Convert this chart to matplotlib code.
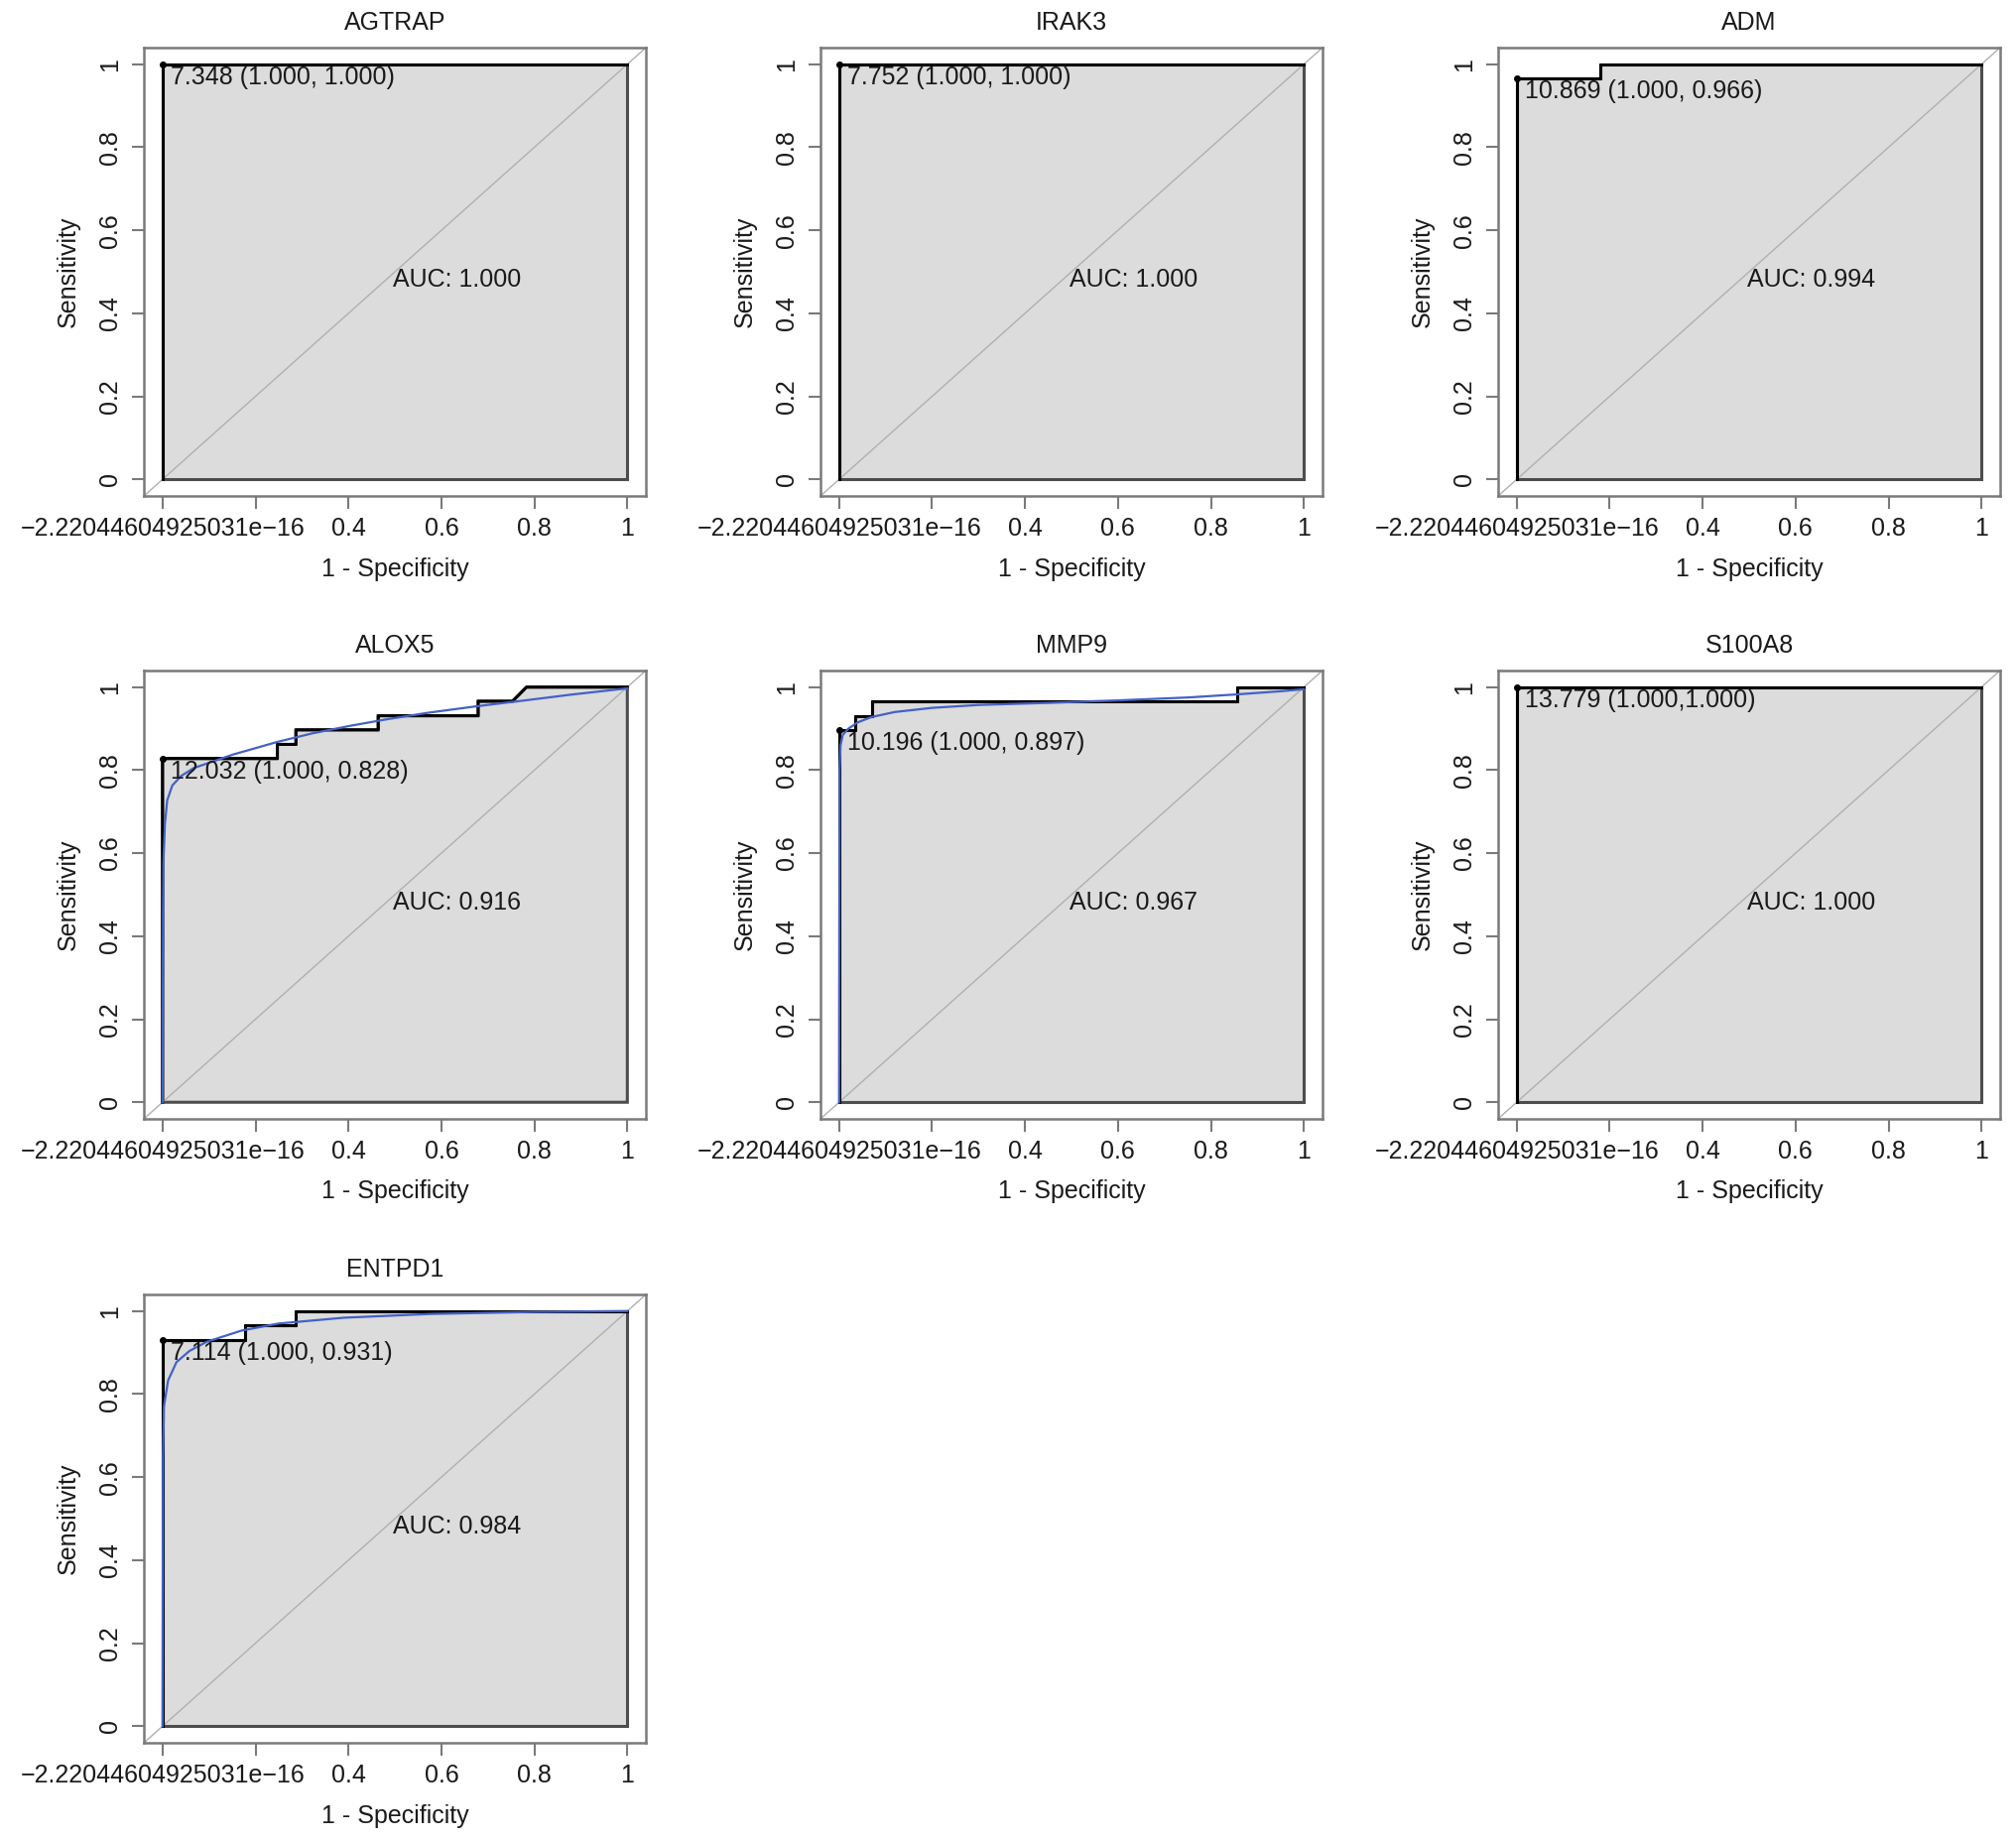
import matplotlib
matplotlib.use("Agg")
import matplotlib.pyplot as plt

plt.rcParams['font.family'] = ['Liberation Sans', 'DejaVu Sans']

# panel data
genes = ["AGTRAP", "IRAK3", "ADM", "ALOX5", "MMP9", "S100A8", "ENTPD1"]
auc_values = [1.000, 1.000, 0.994, 0.916, 0.967, 1.000, 0.984]
thr_labels = ["7.348 (1.000, 1.000)", "7.752 (1.000, 1.000)",
              "10.869 (1.000, 0.966)", "12.032 (1.000, 0.828)",
              "10.196 (1.000, 0.897)", "13.779 (1.000,1.000)",
              "7.114 (1.000, 0.931)"]
thr_x = [0.0, 0.0, 0.0, 0.0, 0.0, 0.0, 0.0]
thr_y = [1.000, 1.000, 0.966, 0.828, 0.897, 1.000, 0.931]

# empirical ROC steps (1 - specificity, sensitivity)
roc_agtrap_x = [0, 0, 1]
roc_agtrap_y = [0, 1, 1]
roc_irak3_x = [0, 0, 1]
roc_irak3_y = [0, 1, 1]
roc_adm_x = [0, 0, 0.18, 0.18, 1]
roc_adm_y = [0, 0.966, 0.966, 1, 1]
roc_alox5_x = [0, 0, 0.247, 0.247, 0.287, 0.287, 0.464, 0.464, 0.679, 0.679, 0.753, 0.783, 1]
roc_alox5_y = [0, 0.828, 0.828, 0.862, 0.862, 0.897, 0.897, 0.931, 0.931, 0.966, 0.966, 1, 1]
roc_mmp9_x = [0, 0, 0.035, 0.035, 0.07, 0.07, 0.857, 0.857, 1]
roc_mmp9_y = [0, 0.897, 0.897, 0.931, 0.931, 0.966, 0.966, 1, 1]
roc_s100a8_x = [0, 0, 1]
roc_s100a8_y = [0, 1, 1]
roc_entpd1_x = [0, 0, 0.178, 0.178, 0.287, 0.287, 1]
roc_entpd1_y = [0, 0.931, 0.931, 0.966, 0.966, 1, 1]

# smoothed ROC curves (blue)
sm_alox5_x = [0, 0.001, 0.002, 0.005, 0.01, 0.021, 0.04, 0.067, 0.114, 0.15, 0.247,
              0.32, 0.40, 0.48, 0.57, 0.67, 0.78, 0.88, 1.0]
sm_alox5_y = [0, 0.45, 0.58, 0.67, 0.727, 0.763, 0.786, 0.805, 0.823, 0.837, 0.868,
              0.888, 0.906, 0.922, 0.938, 0.953, 0.968, 0.982, 0.997]
sm_mmp9_x = [0, 0.001, 0.003, 0.008, 0.02, 0.04, 0.07, 0.12, 0.2, 0.3, 0.45,
             0.6, 0.75, 0.85, 0.95, 1.0]
sm_mmp9_y = [0, 0.80, 0.86, 0.885, 0.90, 0.915, 0.928, 0.94, 0.95, 0.957, 0.962,
             0.968, 0.975, 0.982, 0.99, 0.995]
sm_entpd1_x = [0, 0.001, 0.003, 0.012, 0.03, 0.058, 0.095, 0.17, 0.25, 0.39, 0.575, 0.8, 1.0]
sm_entpd1_y = [0, 0.65, 0.77, 0.833, 0.877, 0.904, 0.926, 0.953, 0.97, 0.984, 0.993, 0.998, 1.0]

roc_x = [roc_agtrap_x, roc_irak3_x, roc_adm_x, roc_alox5_x, roc_mmp9_x, roc_s100a8_x, roc_entpd1_x]
roc_y = [roc_agtrap_y, roc_irak3_y, roc_adm_y, roc_alox5_y, roc_mmp9_y, roc_s100a8_y, roc_entpd1_y]
smooth = {"ALOX5": (sm_alox5_x, sm_alox5_y),
          "MMP9": (sm_mmp9_x, sm_mmp9_y),
          "ENTPD1": (sm_entpd1_x, sm_entpd1_y)}

x_ticks = [0, 0.2, 0.4, 0.6, 0.8, 1]
x_ticklabels = ["\u22122.22044604925031e\u221216", "", "0.4", "0.6", "0.8", "1"]
y_ticks = [0, 0.2, 0.4, 0.6, 0.8, 1]
y_ticklabels = ["0", "0.2", "0.4", "0.6", "0.8", "1"]

fig = plt.figure(figsize=(20.32, 18.54), dpi=100)

col_left = [0.0714, 0.4070, 0.7431]
row_bottom = [0.7303, 0.3916, 0.0523]
w, h = 0.2490, 0.2438
fs = 18
box_col = '#7a7a7a'
txt_col = '#1a1a1a'

for i, gene in enumerate(genes):
    r, c = divmod(i, 3)
    ax = fig.add_axes([col_left[c], row_bottom[r], w, h])
    ax.set_xlim(-0.04, 1.04)
    ax.set_ylim(-0.04, 1.04)

    # area under the empirical curve, then chance line
    ax.fill(list(roc_x[i]) + [1, 0], list(roc_y[i]) + [0, 0], facecolor='#dcdcdc',
            edgecolor='#4d4d4d', lw=2.2, zorder=1)
    ax.plot([-0.04, 1.04], [-0.04, 1.04], color='#b0b0b0', lw=1.0, zorder=2)

    ax.plot(roc_x[i], roc_y[i], color='black', lw=2.2, zorder=3)
    if gene in smooth:
        sx, sy = smooth[gene]
        ax.plot(sx, sy, color='#4461c6', lw=1.6, zorder=4)

    ax.plot(thr_x[i], thr_y[i], 'o', color='black', ms=4, zorder=5)
    ax.text(thr_x[i] + 0.018, thr_y[i] - 0.003, thr_labels[i], ha='left', va='top',
            fontsize=fs, color=txt_col, zorder=6)
    ax.text(0.495, 0.48, "AUC: %.3f" % auc_values[i], ha='left', va='center',
            fontsize=fs, color=txt_col, zorder=6)

    ax.set_xticks(x_ticks)
    ax.set_xticklabels(x_ticklabels)
    ax.set_yticks(y_ticks)
    ax.set_yticklabels(y_ticklabels, rotation=90, va='center')
    ax.tick_params(axis='both', length=9, width=1.5, color=box_col,
                   labelsize=fs, labelcolor=txt_col)
    ax.tick_params(axis='x', pad=6)
    ax.tick_params(axis='y', pad=7)
    for s in ax.spines.values():
        s.set_color(box_col)
        s.set_linewidth(1.8)

    ax.set_xlabel("1 - Specificity", fontsize=fs, color=txt_col, labelpad=12)
    ax.set_ylabel("Sensitivity", fontsize=fs, color=txt_col, labelpad=13)
    ax.set_title(gene, fontsize=fs, color=txt_col, pad=13)

fig.savefig("out.png", dpi=100, facecolor='white')
